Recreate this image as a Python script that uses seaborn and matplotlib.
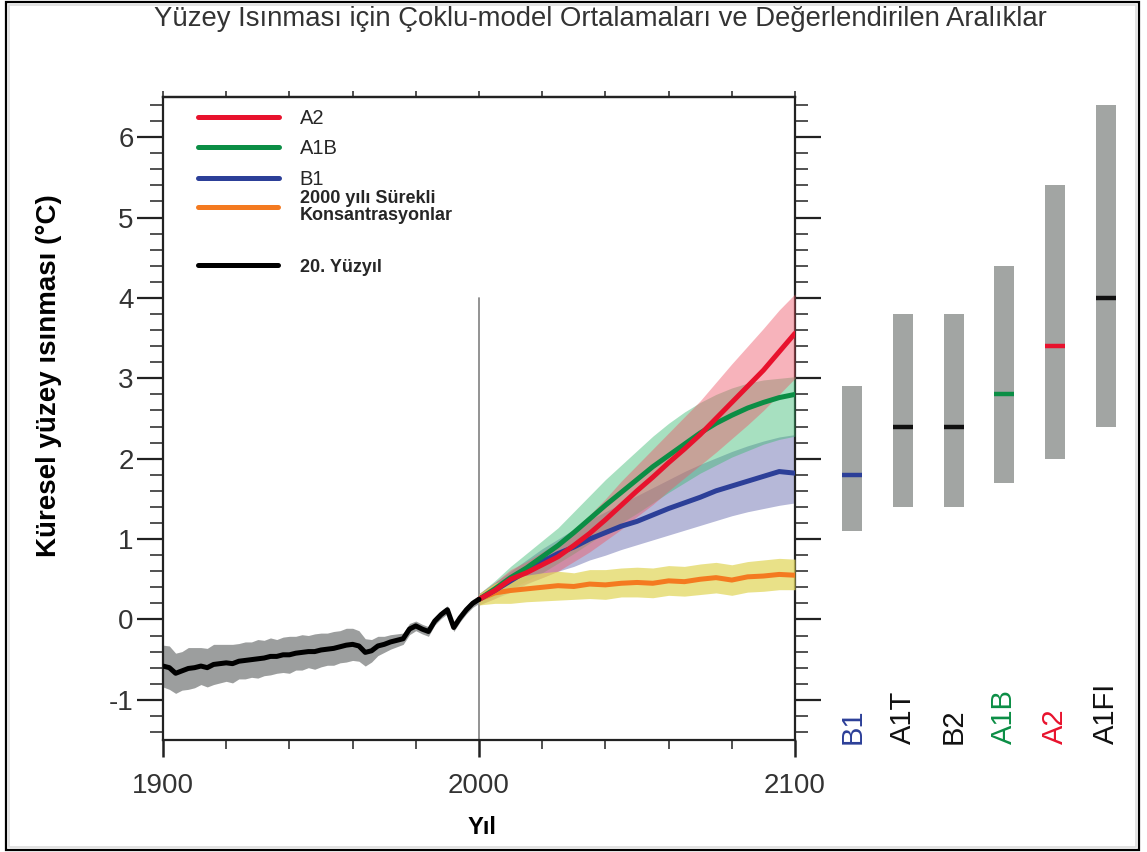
import numpy as np
import pandas as pd
import seaborn as sns
import matplotlib
matplotlib.use("Agg")
import matplotlib.pyplot as plt
from matplotlib.patches import Rectangle
from matplotlib.ticker import MultipleLocator, NullFormatter
from matplotlib.lines import Line2D

# ---------------- data ----------------
hist_years = list(range(1900, 2001, 2))
hist_mean = [-0.58, -0.60, -0.67, -0.64, -0.61, -0.60, -0.58, -0.60, -0.56, -0.55,
             -0.54, -0.55, -0.52, -0.51, -0.50, -0.49, -0.48, -0.46, -0.46, -0.44,
             -0.44, -0.42, -0.41, -0.40, -0.40, -0.38, -0.37, -0.36, -0.34, -0.32,
             -0.31, -0.33, -0.41, -0.39, -0.33, -0.31, -0.28, -0.26, -0.24, -0.12,
             -0.08, -0.12, -0.15, -0.02, 0.06, 0.12, -0.10, 0.02, 0.12, 0.20, 0.25]
hist_spread = [0.26, 0.27, 0.25, 0.24, 0.26, 0.25, 0.23, 0.24, 0.25, 0.24,
               0.23, 0.24, 0.22, 0.23, 0.22, 0.24, 0.22, 0.23, 0.21, 0.22,
               0.23, 0.21, 0.22, 0.20, 0.22, 0.21, 0.20, 0.21, 0.20, 0.21,
               0.20, 0.19, 0.17, 0.14, 0.12, 0.10, 0.09, 0.08, 0.07, 0.07,
               0.06, 0.06, 0.06, 0.05, 0.05, 0.05, 0.05, 0.05, 0.05, 0.05, 0.05]

proj_years = list(range(2000, 2101, 5))
a2_mean = [0.25, 0.36, 0.50, 0.58, 0.68, 0.78, 0.92, 1.07, 1.24, 1.42, 1.60,
           1.77, 1.95, 2.12, 2.30, 2.50, 2.70, 2.90, 3.10, 3.33, 3.56]
a2_low = [0.18, 0.26, 0.38, 0.45, 0.52, 0.60, 0.72, 0.84, 0.98, 1.12, 1.28,
          1.43, 1.60, 1.76, 1.92, 2.08, 2.25, 2.42, 2.60, 2.80, 3.00]
a2_high = [0.32, 0.46, 0.62, 0.72, 0.84, 0.96, 1.12, 1.30, 1.50, 1.72, 1.92,
           2.12, 2.32, 2.52, 2.72, 2.95, 3.18, 3.40, 3.62, 3.85, 4.05]

a1b_mean = [0.25, 0.38, 0.52, 0.64, 0.78, 0.92, 1.08, 1.25, 1.42, 1.58, 1.74,
            1.90, 2.04, 2.18, 2.32, 2.44, 2.54, 2.63, 2.70, 2.76, 2.80]
a1b_low = [0.18, 0.28, 0.38, 0.48, 0.58, 0.70, 0.82, 0.95, 1.08, 1.20, 1.32,
           1.45, 1.58, 1.70, 1.82, 1.92, 2.02, 2.10, 2.18, 2.24, 2.28]
a1b_high = [0.32, 0.48, 0.66, 0.82, 0.98, 1.14, 1.34, 1.54, 1.74, 1.92, 2.10,
            2.28, 2.44, 2.58, 2.70, 2.80, 2.88, 2.94, 2.98, 3.00, 3.02]

b1_mean = [0.25, 0.36, 0.48, 0.60, 0.72, 0.82, 0.90, 1.00, 1.08, 1.16, 1.22,
           1.30, 1.38, 1.45, 1.52, 1.60, 1.66, 1.72, 1.78, 1.84, 1.82]
b1_low = [0.18, 0.26, 0.34, 0.44, 0.52, 0.60, 0.66, 0.74, 0.80, 0.87, 0.93,
          0.99, 1.05, 1.11, 1.17, 1.23, 1.29, 1.34, 1.38, 1.42, 1.45]
b1_high = [0.32, 0.46, 0.60, 0.74, 0.88, 1.00, 1.12, 1.24, 1.34, 1.44, 1.54,
           1.64, 1.74, 1.84, 1.93, 2.01, 2.09, 2.16, 2.22, 2.27, 2.30]

const_mean = [0.25, 0.33, 0.36, 0.38, 0.40, 0.42, 0.41, 0.44, 0.43, 0.45, 0.46,
              0.45, 0.48, 0.47, 0.50, 0.52, 0.49, 0.53, 0.54, 0.56, 0.55]
const_low = [0.18, 0.20, 0.20, 0.22, 0.23, 0.24, 0.25, 0.26, 0.25, 0.28, 0.28,
             0.27, 0.30, 0.29, 0.31, 0.33, 0.30, 0.34, 0.35, 0.37, 0.37]
const_high = [0.32, 0.45, 0.52, 0.55, 0.58, 0.60, 0.58, 0.62, 0.62, 0.64, 0.65,
              0.64, 0.67, 0.66, 0.69, 0.71, 0.68, 0.72, 0.74, 0.76, 0.75]

# likely ranges for 2090-2099 per scenario
scenarios = ["B1", "A1T", "B2", "A1B", "A2", "A1FI"]
range_low = [1.1, 1.4, 1.4, 1.7, 2.0, 2.4]
range_high = [2.9, 3.8, 3.8, 4.4, 5.4, 6.4]
best_est = [1.8, 2.4, 2.4, 2.8, 3.4, 4.0]

scenario_labels = ["A2", "A1B", "B1"]
constant_label = "2000 yılı Sürekli\nKonsantrasyonlar"
century_label = "20. Yüzyıl"

# ---------------- style ----------------
RED, GREEN, BLUE, ORANGE = "#e8122d", "#0b8e45", "#2c3f98", "#f47a20"
scen_colors = [BLUE, "#111111", "#111111", GREEN, RED, "#111111"]

sns.set_theme(style="white")
plt.rcParams["font.family"] = ["Liberation Sans", "DejaVu Sans"]
plt.rcParams["axes.linewidth"] = 1.6
plt.rcParams["axes.edgecolor"] = "#222222"
plt.rcParams["axes.unicode_minus"] = False

fig = plt.figure(figsize=(11.47, 8.52), dpi=100)
W, H = 1147, 852
ax = fig.add_axes([163 / W, 1 - 740 / H, (795 - 163) / W, (740 - 97) / H])
axr = fig.add_axes([827 / W, 1 - 740 / H, 304 / W, (740 - 97) / H])

# vertical marker at 2000
ax.axvline(2000, ymin=0, ymax=(4.0 + 1.5) / 8.0, color="#8a8a8a", lw=1.3, zorder=1)

# uncertainty envelopes
ax.fill_between(hist_years, np.array(hist_mean) - np.array(hist_spread),
                np.array(hist_mean) + np.array(hist_spread),
                color="#9c9e9e", lw=0, zorder=2)
ax.fill_between(proj_years, b1_low, b1_high, color="#8f92c4", alpha=0.65, lw=0, zorder=2)
ax.fill_between(proj_years, a1b_low, a1b_high, color="#3dbb74", alpha=0.45, lw=0, zorder=3)
ax.fill_between(proj_years, a2_low, a2_high, color="#ee5868", alpha=0.45, lw=0, zorder=4)
ax.fill_between(proj_years, const_low, const_high, color="#e2d860", alpha=0.75, lw=0, zorder=4)

# scenario means
line_kw = dict(lw=3.6, solid_capstyle="round", legend=False, ax=ax)
sns.lineplot(x=proj_years, y=const_mean, color=ORANGE, zorder=5, **line_kw)
sns.lineplot(x=proj_years, y=b1_mean, color=BLUE, zorder=6, **line_kw)
sns.lineplot(x=proj_years, y=a1b_mean, color=GREEN, zorder=7, **line_kw)
sns.lineplot(x=proj_years, y=a2_mean, color=RED, zorder=8, **line_kw)
sns.lineplot(x=hist_years, y=hist_mean, color="black", zorder=9, **line_kw)

ax.set_xlim(1900, 2100)
ax.set_ylim(-1.5, 6.5)
ax.xaxis.set_major_locator(MultipleLocator(100))
ax.xaxis.set_minor_locator(MultipleLocator(20))
ax.yaxis.set_major_locator(MultipleLocator(1))
ax.yaxis.set_minor_locator(MultipleLocator(0.2))
ax.tick_params(axis="y", which="major", direction="out", length=19, width=1.6,
               left=True, right=True, labelsize=20, pad=2, colors="#222222",
               labelcolor="#333333")
ax.tick_params(axis="y", which="minor", direction="out", length=9.5, width=1.2,
               left=True, right=True, colors="#333333")
ax.tick_params(axis="x", which="major", direction="out", length=12, width=1.8,
               bottom=True, top=False, labelsize=20, pad=12, colors="#222222",
               labelcolor="#333333")
ax.tick_params(axis="x", which="minor", direction="out", length=6.5, width=1.2,
               bottom=True, top=False, colors="#333333")
for s in ax.spines.values():
    s.set_visible(True)

# short ticks along the top edge
top = ax.secondary_xaxis("top")
top.xaxis.set_major_locator(MultipleLocator(20))
top.xaxis.set_major_formatter(NullFormatter())
top.tick_params(direction="out", length=4, width=1.2, colors="#333333")

ax.set_xlabel("Yıl", fontsize=17, fontweight="bold", color="black")
ax.xaxis.set_label_coords(0.505, -0.118)
ax.set_ylabel("Küresel yüzey ısınması (°C)", fontsize=20, fontweight="bold", color="black")
ax.yaxis.set_label_coords(-0.160, 0.567)

# legend, in three groups
def frac(ypix):
    return (740 - ypix) / 643

leg1 = ax.legend([Line2D([], [], color=c, lw=3.6, solid_capstyle="round") for c in [RED, GREEN, BLUE]],
                 scenario_labels, loc="center left", bbox_to_anchor=(0.0554, frac(149)),
                 frameon=False, fontsize=14.5, handlelength=4.0, handletextpad=1.05,
                 labelspacing=0.58, borderpad=0, borderaxespad=0)
ax.add_artist(leg1)
leg2 = ax.legend([Line2D([], [], color=ORANGE, lw=3.6, solid_capstyle="round")],
                 [constant_label], loc="center left", bbox_to_anchor=(0.0554, frac(207)),
                 frameon=False, handlelength=4.45, handletextpad=1.2,
                 borderpad=0, borderaxespad=0, prop={"weight": "bold", "size": 13})
for t in leg2.get_texts():
    t.set_linespacing(1.05)
ax.add_artist(leg2)
leg3 = ax.legend([Line2D([], [], color="black", lw=3.6, solid_capstyle="round")],
                 [century_label], loc="center left", bbox_to_anchor=(0.0554, frac(267)),
                 frameon=False, handlelength=4.45, handletextpad=1.2,
                 borderpad=0, borderaxespad=0, prop={"weight": "bold", "size": 13})

# scenario range bars
xpos = np.arange(len(scenarios))
axr.bar(xpos, np.array(range_high) - np.array(range_low), bottom=range_low,
        width=0.39, color="#a2a5a3", lw=0)
axr.hlines(best_est, xpos - 0.195, xpos + 0.195, colors=scen_colors, lw=3.2)
for x, name, c in zip(xpos, scenarios, scen_colors):
    axr.text(x, -1.55, name, rotation=90, ha="center", va="bottom",
             fontsize=21, color=c)
axr.set_xlim(-0.5, 5.5)
axr.set_ylim(-1.5, 6.5)
axr.axis("off")

fig.text(0.523, 0.978, "Yüzey Isınması için Çoklu-model Ortalamaları ve Değerlendirilen Aralıklar",
         ha="center", va="center", fontsize=19.8, color="#333333")

# outer frame
fig.patches.append(Rectangle((6 / W, 2 / H), 1133 / W, 848 / H, transform=fig.transFigure,
                             fill=False, ec="black", lw=1.6))
fig.patches.append(Rectangle((9 / W, 5 / H), 1127 / W, 842 / H, transform=fig.transFigure,
                             fill=False, ec="#dddddd", lw=1.2))

fig.savefig("out.png", dpi=100)
